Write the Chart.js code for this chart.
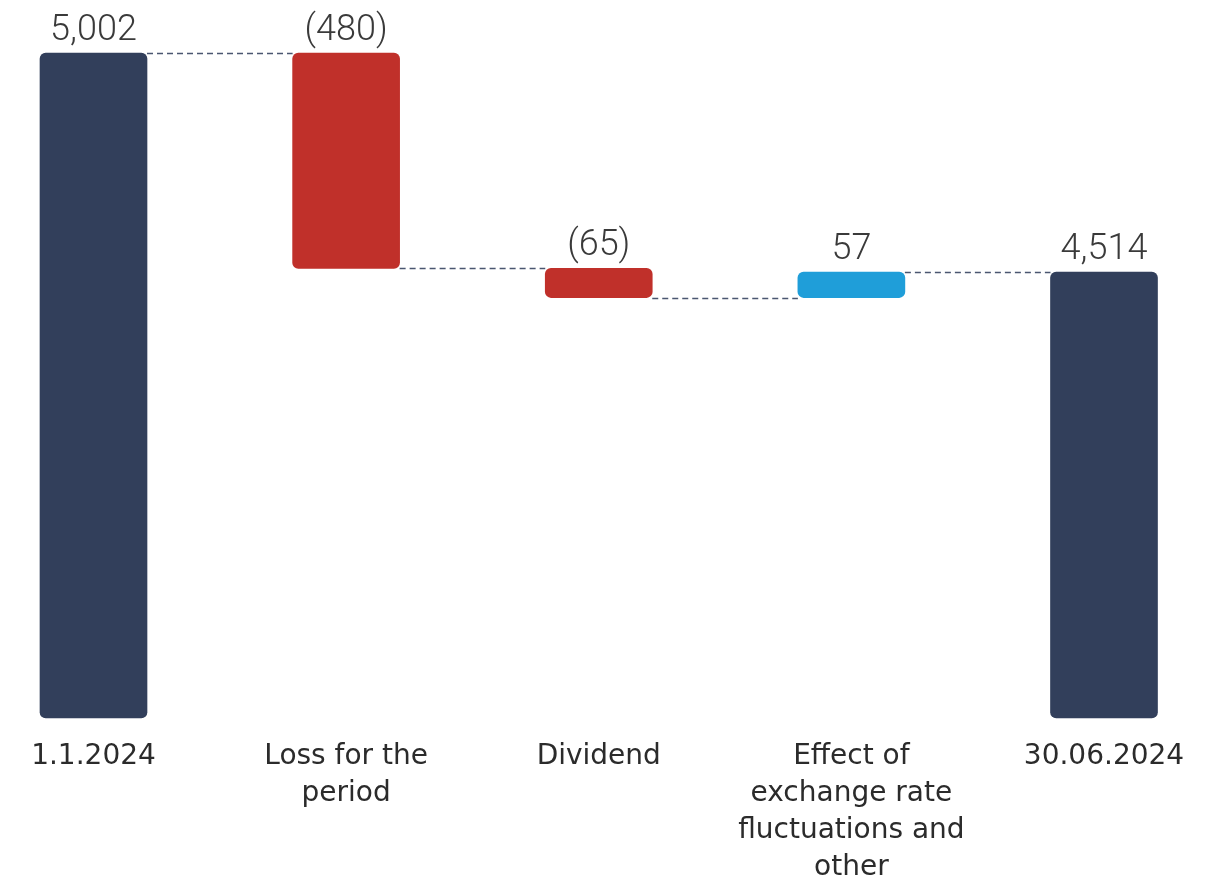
<!DOCTYPE html>
<html>
<head>
<meta charset="utf-8">
<script src="https://cdn.jsdelivr.net/npm/chart.js@4/dist/chart.umd.min.js"></script>
<style>
  html, body { margin: 0; padding: 0; background: #fff; }
  #wrap { width: 1228px; height: 883px; }
</style>
</head>
<body>
<div id="wrap"><canvas id="equity_bridge"></canvas></div>
<script>
const categories = [
  ['1.1.2024'],
  ['Loss for the', 'period'],
  ['Dividend'],
  ['Effect of', 'exchange rate', 'fluctuations and', 'other'],
  ['30.06.2024']
];
// opening and closing balances are totals, the rest are movements
const kinds = ['total', 'delta', 'delta', 'delta', 'total'];
const amounts = [5002, -480, -65, 57, 4514];
const value_labels = ['5,002', '(480)', '(65)', '57', '4,514'];

const axis_min = 3520;
const axis_max = 5002;

const navy = '#323f5b';
const red = '#c0302a';
const blue = '#1f9ed9';

// running totals -> floating [from, to] ranges
let running = 0;
const ranges = [];
const levels = [];
amounts.forEach((v, i) => {
  if (kinds[i] === 'total') {
    running = v;
    ranges.push([axis_min, v]);
  } else {
    ranges.push([running, running + v]);
    running += v;
  }
  levels.push(running);
});
const colors = amounts.map((v, i) => kinds[i] === 'total' ? navy : (v < 0 ? red : blue));

const connectors = {
  id: 'connectors',
  afterDatasetsDraw(chart) {
    const { ctx, scales: { y } } = chart;
    const bars = chart.getDatasetMeta(0).data;
    ctx.save();
    ctx.strokeStyle = '#4a5670';
    ctx.lineWidth = 1.4;
    ctx.setLineDash([6, 4]);
    for (let i = 0; i < bars.length - 1; i++) {
      const py = Math.round(y.getPixelForValue(levels[i])) + 0.5;
      ctx.beginPath();
      ctx.moveTo(bars[i].x + bars[i].width / 2, py);
      ctx.lineTo(bars[i + 1].x - bars[i + 1].width / 2, py);
      ctx.stroke();
    }
    ctx.restore();
  }
};

const valueLabels = {
  id: 'valueLabels',
  afterDatasetsDraw(chart) {
    const { ctx } = chart;
    const bars = chart.getDatasetMeta(0).data;
    ctx.save();
    ctx.font = '300 36px Roboto';
    ctx.fillStyle = '#3a3a3a';
    ctx.textAlign = 'center';
    ctx.textBaseline = 'alphabetic';
    bars.forEach((bar, i) => {
      const top = Math.min(bar.y, bar.base);
      ctx.fillText(value_labels[i], bar.x, top - 13);
    });
    ctx.restore();
  }
};

new Chart(document.getElementById('equity_bridge'), {
  type: 'bar',
  data: {
    labels: categories,
    datasets: [{
      data: ranges,
      backgroundColor: colors,
      borderRadius: 6,
      borderSkipped: false,
      barThickness: 107,
      clip: false
    }]
  },
  options: {
    responsive: true,
    maintainAspectRatio: false,
    animation: false,
    layout: { padding: { top: 53, left: 93.5, right: 124, bottom: 0 } },
    plugins: {
      legend: { display: false },
      tooltip: { enabled: false }
    },
    scales: {
      x: {
        offset: false,
        grid: { display: false, drawTicks: false },
        border: { display: false },
        afterFit: (s) => { s.height = 165; },
        ticks: {
          color: '#2b2b2b',
          padding: 20,
          maxRotation: 0,
          autoSkip: false,
          font: { family: '"DejaVu Sans"', size: 28, lineHeight: 1.32 }
        }
      },
      y: {
        display: false,
        min: axis_min,
        max: axis_max
      }
    }
  },
  plugins: [connectors, valueLabels]
});
</script>
</body>
</html>
